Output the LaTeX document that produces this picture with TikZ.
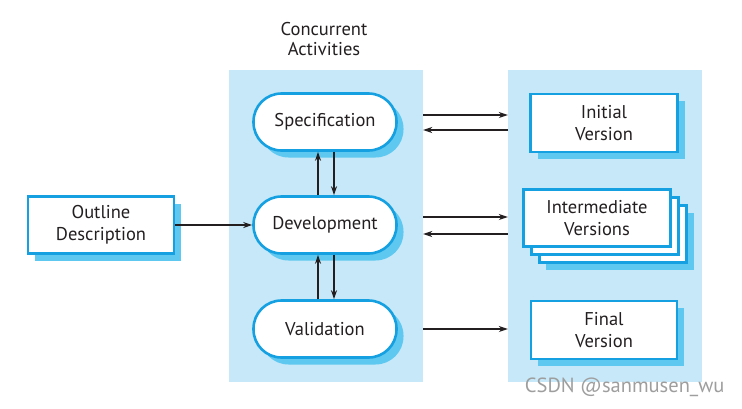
\documentclass[tikz,border=0pt]{standalone}
\usepackage{fontspec}
\setmainfont{PT Sans}
\usetikzlibrary{shadows,arrows.meta}
\definecolor{panel}{RGB}{198,232,248}
\definecolor{edge}{RGB}{20,160,225}
\definecolor{shade}{RGB}{95,200,240}
\definecolor{ink}{RGB}{35,31,32}
\begin{document}
\begin{tikzpicture}[x=1pt,y=-1pt,
  box/.style={draw=edge, line width=2.6pt, fill=white, minimum width=146pt, minimum height=57pt,
    align=center, font=\fontsize{18.5}{21.5}\selectfont, text=ink, inner sep=0pt,
    drop shadow={shadow xshift=7pt, shadow yshift=-7pt, fill=shade, opacity=1}},
  plainbox/.style={draw=edge, line width=2.6pt, fill=white, minimum width=146pt, minimum height=57pt,
    align=center, font=\fontsize{18.5}{21.5}\selectfont, text=ink, inner sep=0pt},
  pill/.style={box, rounded corners=28pt, minimum height=57pt, minimum width=143pt},
  panelbox/.style={fill=panel, minimum width=194pt, minimum height=312pt, inner sep=0pt},
  arr/.style={-{Stealth[length=9pt,width=6pt]}, line width=1.2pt, draw=ink}]
\useasboundingbox (0,0) rectangle (742,408);
\fill[white] (0,0) rectangle (742,408);
\node[panelbox] (lp) at (326,226) {};
\node[panelbox] (rp) at (605,226) {};
\node[font=\fontsize{18.5}{20}\selectfont, align=center, text=ink] (title) at (324,39) {Concurrent\\Activities};
\node[box] (outline) at (101,225) {Outline\\Description};
\node[pill] (spec) at (325,122) {Specification};
\node[pill] (dev) at (325,225) {Development};
\node[pill] (val) at (325,329) {Validation};
\node[box, minimum width=147pt, minimum height=58pt] (init) at (604,123) {Initial\\Version};
\node[box, minimum width=147pt, minimum height=57pt, drop shadow={shadow xshift=6pt, shadow yshift=-7pt, fill=shade, opacity=1}] (int3) at (613,234) {};
\node[plainbox, minimum width=147pt, minimum height=57pt] (int2) at (605,226) {};
\node[plainbox, minimum width=147pt, minimum height=57pt] (int1) at (597,218) {Intermediate\\Versions};
\node[box, minimum width=146pt, minimum height=58pt] (final) at (604,330) {Final\\Version};
\draw[arr] (outline.east) -- (dev.west);
\draw[arr] ([xshift=-7pt]dev.north) -- ([xshift=-7pt]spec.south);
\draw[arr] ([xshift=9pt]spec.south) -- ([xshift=9pt]dev.north);
\draw[arr] ([xshift=-7pt]val.north) -- ([xshift=-7pt]dev.south);
\draw[arr] ([xshift=9pt]dev.south) -- ([xshift=9pt]val.north);
\draw[arr] ([yshift=7pt]spec.east -| lp.east) -- ([yshift=7pt]spec.east -| rp.west);
\draw[arr] ([yshift=-8pt]spec.east -| rp.west) -- ([yshift=-8pt]spec.east -| lp.east);
\draw[arr] ([yshift=8pt]dev.east -| lp.east) -- ([yshift=8pt]dev.east -| rp.west);
\draw[arr] ([yshift=-9pt]dev.east -| rp.west) -- ([yshift=-9pt]dev.east -| lp.east);
\draw[arr] (val.east -| lp.east) -- (val.east -| rp.west);
\node[font=\fontsize{20.5}{22}\selectfont, text=black!38, anchor=east] (wm) at (728,387) {CSDN @sanmusen\_wu};
\end{tikzpicture}
\end{document}
